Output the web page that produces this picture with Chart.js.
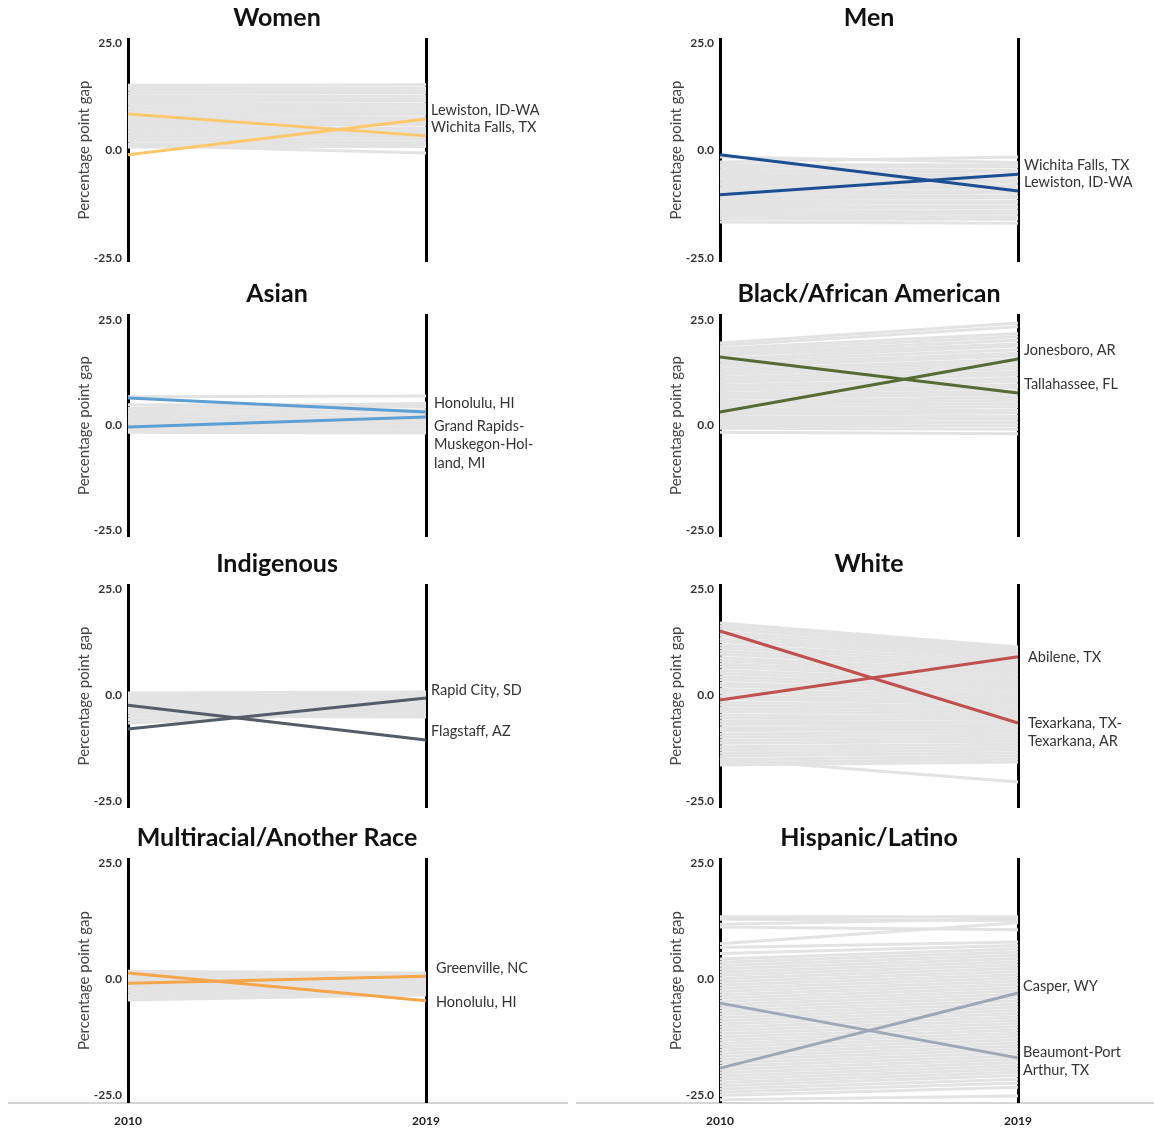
<!DOCTYPE html>
<html>
<head>
<meta charset="utf-8">
<script src="https://cdn.jsdelivr.net/npm/chart.js@4.4.0/dist/chart.umd.min.js"></script>
<style>
  body { margin: 0; background: #fff; }
  #wrap { position: relative; width: 1154px; height: 1130px; overflow: hidden; }
  #wrap canvas { position: absolute; }
  .base { position: absolute; top: 1102px; height: 2px; background: #d4d4d4; }
</style>
</head>
<body>
<div id="wrap">
  <div class="base" style="left:8px;width:560px"></div>
  <div class="base" style="left:576px;width:578px"></div>
</div>
<script>
// x categories and y ticks
var years = ["2010", "2019"];
var yTicks = [25, 0, -25];

// Women
var womenNames = [["Lewiston, ID-WA"], ["Wichita Falls, TX"]];
var womenStart = [-1.0, 8.5];
var womenEnd = [7.3, 3.4];
var womenFrom = [15.2, 14.6, 14.0, 13.3, 12.7, 12.1, 11.4, 10.8, 10.2, 9.6, 9.0, 8.3, 7.7, 7.1, 6.5, 5.8, 5.2, 4.6, 4.0, 3.4, 2.8, 2.2, 1.5, 0.8, 1.2];
var womenTo = [15.3, 14.5, 13.9, 13.4, 12.6, 12.0, 11.5, 10.7, 10.1, 9.5, 8.9, 8.4, 7.6, 7.0, 6.4, 5.9, 5.1, 4.5, 3.9, 3.3, 2.7, 2.0, 1.4, 0.9, -0.6];

// Men
var menNames = [["Wichita Falls, TX"], ["Lewiston, ID-WA"]];
var menStart = [-10.3, -1.0];
var menEnd = [-5.5, -9.4];
var menFrom = [-1.5, -2.7, -3.3, -3.9, -4.5, -5.1, -5.7, -6.3, -6.9, -7.5, -8.1, -8.7, -9.3, -9.9, -10.5, -11.1, -11.7, -12.3, -12.9, -13.5, -14.1, -14.7, -15.3, -15.9, -16.6];
var menTo = [-2.8, -1.5, -3.4, -3.8, -4.6, -5.0, -5.8, -6.2, -7.0, -7.4, -8.2, -8.6, -9.4, -9.8, -10.6, -11.0, -11.8, -12.2, -13.0, -13.4, -14.2, -14.6, -15.4, -16.0, -16.9];

// Asian
var asianNames = [["Honolulu, HI"], ["Grand Rapids-", "Muskegon-Hol-", "land, MI"]];
var asianStart = [6.4, -0.5];
var asianEnd = [3.1, 1.9];
var asianFrom = [6.7, 4.0, 3.4, 2.8, 2.2, 1.6, 1.0, 0.4, -0.2, -0.8, -1.3, -1.7, 4.8];
var asianTo = [6.9, 5.2, 4.4, 3.6, 2.8, 2.0, 1.3, 0.6, -0.1, -0.8, -1.4, -1.9, 4.8];

// Black/African American
var blackNames = [["Jonesboro, AR"], ["Tallahassee, FL"]];
var blackStart = [3.1, 16.2];
var blackEnd = [15.7, 7.6];
var blackFrom = [19.5, 18.9, 18.2, 17.6, 17.0, 16.6, 15.8, 15.2, 14.5, 13.9, 13.2, 12.6, 12.0, 11.3, 10.7, 10.1, 9.4, 8.8, 8.2, 7.5, 6.9, 6.3, 5.6, 5.0, 4.4, 3.7, 3.1, 2.5, 1.8, 1.2, 0.6, -0.1, -0.8, -1.7];
var blackTo = [24.3, 23.4, 21.8, 21.0, 20.2, 19.3, 18.8, 17.9, 17.1, 16.4, 15.6, 14.9, 14.1, 13.4, 12.6, 11.9, 11.1, 10.4, 9.6, 8.9, 8.1, 7.4, 6.6, 5.9, 5.1, 4.4, 3.6, 2.9, 2.1, 1.4, 0.6, -0.2, -1.0, -2.1];

// Indigenous
var indigNames = [["Rapid City, SD"], ["Flagstaff, AZ"]];
var indigStart = [-8.0, -2.4];
var indigEnd = [-0.7, -10.6];
var indigFrom = [0.5, 0.0, -0.5, -1.0, -1.5, -2.0, -2.6, -3.2, -3.8, -4.3, -5.0, -5.8, -6.6];
var indigTo = [0.7, 0.1, -0.5, -1.1, -1.7, -2.3, -2.9, -3.5, -4.1, -4.7, -5.2, -4.4, -3.6];

// White
var whiteNames = [["Abilene, TX"], ["Texarkana, TX-", "Texarkana, AR"]];
var whiteStart = [-1.2, 15.1];
var whiteEnd = [9.0, -6.6];
var whiteFrom = [17.0, 16.3, 15.6, 14.8, 14.1, 13.3, 12.6, 11.8, 11.1, 10.3, 9.6, 8.8, 8.1, 7.3, 6.6, 5.8, 5.1, 4.3, 3.6, 2.8, 2.1, 1.3, 0.6, -0.2, -0.9, -1.7, -2.4, -3.2, -3.9, -4.7, -5.4, -6.2, -6.9, -7.7, -8.4, -9.2, -9.9, -10.7, -11.4, -12.2, -12.9, -13.7, -14.4, -15.2, -15.9, -16.5, -15.0];
var whiteTo = [11.3, 10.9, 10.4, 10.0, 9.5, 9.1, 8.6, 8.0, 7.4, 6.8, 6.2, 5.6, 5.0, 4.4, 3.8, 3.2, 2.6, 2.0, 1.4, 0.8, 0.2, -0.4, -1.0, -1.6, -2.2, -2.8, -3.4, -4.0, -4.6, -5.2, -5.8, -6.4, -7.0, -7.6, -8.2, -8.8, -9.5, -10.2, -10.9, -11.6, -12.3, -13.0, -13.7, -14.4, -15.1, -15.8, -20.5];

// Multiracial/Another Race
var multiNames = [["Greenville, NC"], ["Honolulu, HI"]];
var multiStart = [-0.9, 1.3];
var multiEnd = [0.6, -4.7];
var multiFrom = [1.7, 1.2, 0.7, 0.2, -0.3, -0.8, -1.3, -1.8, -2.3, -2.8, -3.4, -4.0, -4.5];
var multiTo = [1.3, 0.9, 0.5, 0.1, -0.3, -0.7, -1.1, -1.5, -1.9, -2.3, -2.7, -3.1, -3.4];

// Hispanic/Latino
var hispNames = [["Casper, WY"], ["Beaumont-Port", "Arthur, TX"]];
var hispStart = [-19.2, -5.2];
var hispEnd = [-3.0, -17.0];
var hispFrom = [13.4, 12.9, 11.8, 11.2, 7.6, 6.8, 5.5, 4.3, 3.6, 2.9, 2.2, 1.5, 0.8, 0.1, -0.6, -1.3, -2.0, -2.7, -3.4, -4.1, -4.8, -5.5, -6.2, -6.9, -7.6, -8.3, -9.0, -9.7, -10.4, -11.1, -11.8, -12.5, -13.2, -13.9, -14.6, -15.3, -16.0, -16.7, -17.4, -18.1, -18.8, -19.5, -20.2, -20.9, -21.6, -22.3, -23.0, -23.7, -24.4, -25.1, -26.0];
var hispTo = [13.4, 12.6, 13.0, 10.6, 12.1, 8.0, 7.2, 6.5, 5.8, 5.1, 4.4, 3.7, 3.0, 2.3, 1.6, 0.9, 0.2, -0.5, -1.2, -1.9, -2.6, -3.3, -4.0, -4.7, -5.4, -6.1, -6.8, -7.5, -8.2, -8.9, -9.6, -10.3, -11.0, -11.7, -12.4, -13.1, -13.8, -14.5, -15.2, -15.9, -16.6, -17.3, -18.0, -18.7, -19.4, -20.1, -20.8, -21.6, -22.4, -23.3, -25.2];

// layout of the grid
var rows = [
  {top: 0, height: 262, min: -25.93, max: 26.16, xh: 0},
  {top: 276, height: 261, min: -26.67, max: 26.43, xh: 0},
  {top: 546, height: 262, min: -26.65, max: 26.18, xh: 0},
  {top: 820, height: 310, min: -26.72, max: 26.08, xh: 27}
];
var cols = [{left: 0, width: 572}, {left: 592, width: 562}];

var panels = [
  {title: "Women", row: 0, col: 0, color: "#fdc76b", names: womenNames, start: womenStart, end: womenEnd, from: womenFrom, to: womenTo, dx: 5, dy: [-9, -9]},
  {title: "Men", row: 0, col: 1, color: "#1c4f91", names: menNames, start: menStart, end: menEnd, from: menFrom, to: menTo, dx: 6, dy: [-9, -9]},
  {title: "Asian", row: 1, col: 0, color: "#5b9fd4", names: asianNames, start: asianStart, end: asianEnd, from: asianFrom, to: asianTo, dx: 8, dy: [-9, 9]},
  {title: "Black/African American", row: 1, col: 1, color: "#566b33", names: blackNames, start: blackStart, end: blackEnd, from: blackFrom, to: blackTo, dx: 6, dy: [-9, -9]},
  {title: "Indigenous", row: 2, col: 0, color: "#545c69", names: indigNames, start: indigStart, end: indigEnd, from: indigFrom, to: indigTo, dx: 5, dy: [-8, -9]},
  {title: "White", row: 2, col: 1, color: "#c0504d", names: whiteNames, start: whiteStart, end: whiteEnd, from: whiteFrom, to: whiteTo, dx: 10, dy: [0, 0]},
  {title: "Multiracial/Another Race", row: 3, col: 0, color: "#f5a64a", names: multiNames, start: multiStart, end: multiEnd, from: multiFrom, to: multiTo, dx: 10, dy: [-8, 2]},
  {title: "Hispanic/Latino", row: 3, col: 1, color: "#9ea7b5", names: hispNames, start: hispStart, end: hispEnd, from: hispFrom, to: hispTo, dx: 5, dy: [-7, -6]}
];

Chart.defaults.font.family = "Lato, 'Open Sans', sans-serif";
Chart.defaults.color = "#333";

function panelText(p) {
  return {
    id: "panelText",
    afterDraw: function(chart) {
      var ctx = chart.ctx, area = chart.chartArea;
      ctx.save();
      ctx.fillStyle = "#111";
      ctx.font = "bold 25px Lato";
      ctx.textAlign = "center";
      ctx.textBaseline = "middle";
      ctx.fillText(p.title, (area.left + area.right) / 2, area.top - 20);
      ctx.font = "14.5px Lato";
      ctx.fillStyle = "#333";
      ctx.textAlign = "left";
      p.names.forEach(function(lines, i) {
        var pt = chart.getDatasetMeta(i).data[1];
        var y = pt.y + p.dy[i];
        lines.forEach(function(t, k) {
          ctx.fillText(t, area.right + p.dx, y + k * 18.5);
        });
      });
      ctx.restore();
    }
  };
}

function noPad(s) {
  s.paddingTop = 0;
  s.paddingBottom = 0;
  s.paddingLeft = 0;
  s.paddingRight = 0;
}

panels.forEach(function(p) {
  var r = rows[p.row], c = cols[p.col];
  var cv = document.createElement("canvas");
  cv.width = c.width;
  cv.height = r.height;
  cv.style.left = c.left + "px";
  cv.style.top = r.top + "px";
  document.getElementById("wrap").appendChild(cv);

  var ds = [];
  for (var i = 0; i < p.start.length; i++) {
    ds.push({data: [p.start[i], p.end[i]], borderColor: p.color, borderWidth: 3, order: 0});
  }
  for (var j = 0; j < p.from.length; j++) {
    ds.push({data: [p.from[j], p.to[j]], borderColor: "#e3e3e3", borderWidth: 3, order: 1});
  }

  new Chart(cv, {
    type: "line",
    data: {labels: years, datasets: ds},
    options: {
      responsive: false,
      animation: false,
      layout: {padding: {left: 0, top: 38, right: c.width - 426, bottom: 0}},
      elements: {point: {radius: 0}, line: {tension: 0}},
      plugins: {legend: {display: false}, tooltip: {enabled: false}},
      scales: {
        x: {
          offset: false,
          z: 1,
          border: {display: false},
          grid: {color: "#000", lineWidth: 3, drawTicks: false},
          ticks: {display: r.xh > 0, padding: 11, font: {size: 12, weight: "bold"}, color: "#222"},
          afterFit: function(s) { s.height = r.xh; noPad(s); }
        },
        y: {
          min: r.min,
          max: r.max,
          border: {display: false},
          grid: {display: false, drawTicks: false},
          afterBuildTicks: function(s) { s.ticks = yTicks.map(function(v) { return {value: v}; }); },
          afterFit: function(s) { s.width = 128; noPad(s); },
          ticks: {padding: 6, font: {size: 12, weight: "bold"}, color: "#333",
            callback: function(v) { return Number(v).toFixed(1); }},
          title: {display: true, text: "Percentage point gap", font: {size: 15}, color: "#444", padding: {top: 75, bottom: 0}}
        }
      }
    },
    plugins: [panelText(p)]
  });
});
</script>
</body>
</html>
